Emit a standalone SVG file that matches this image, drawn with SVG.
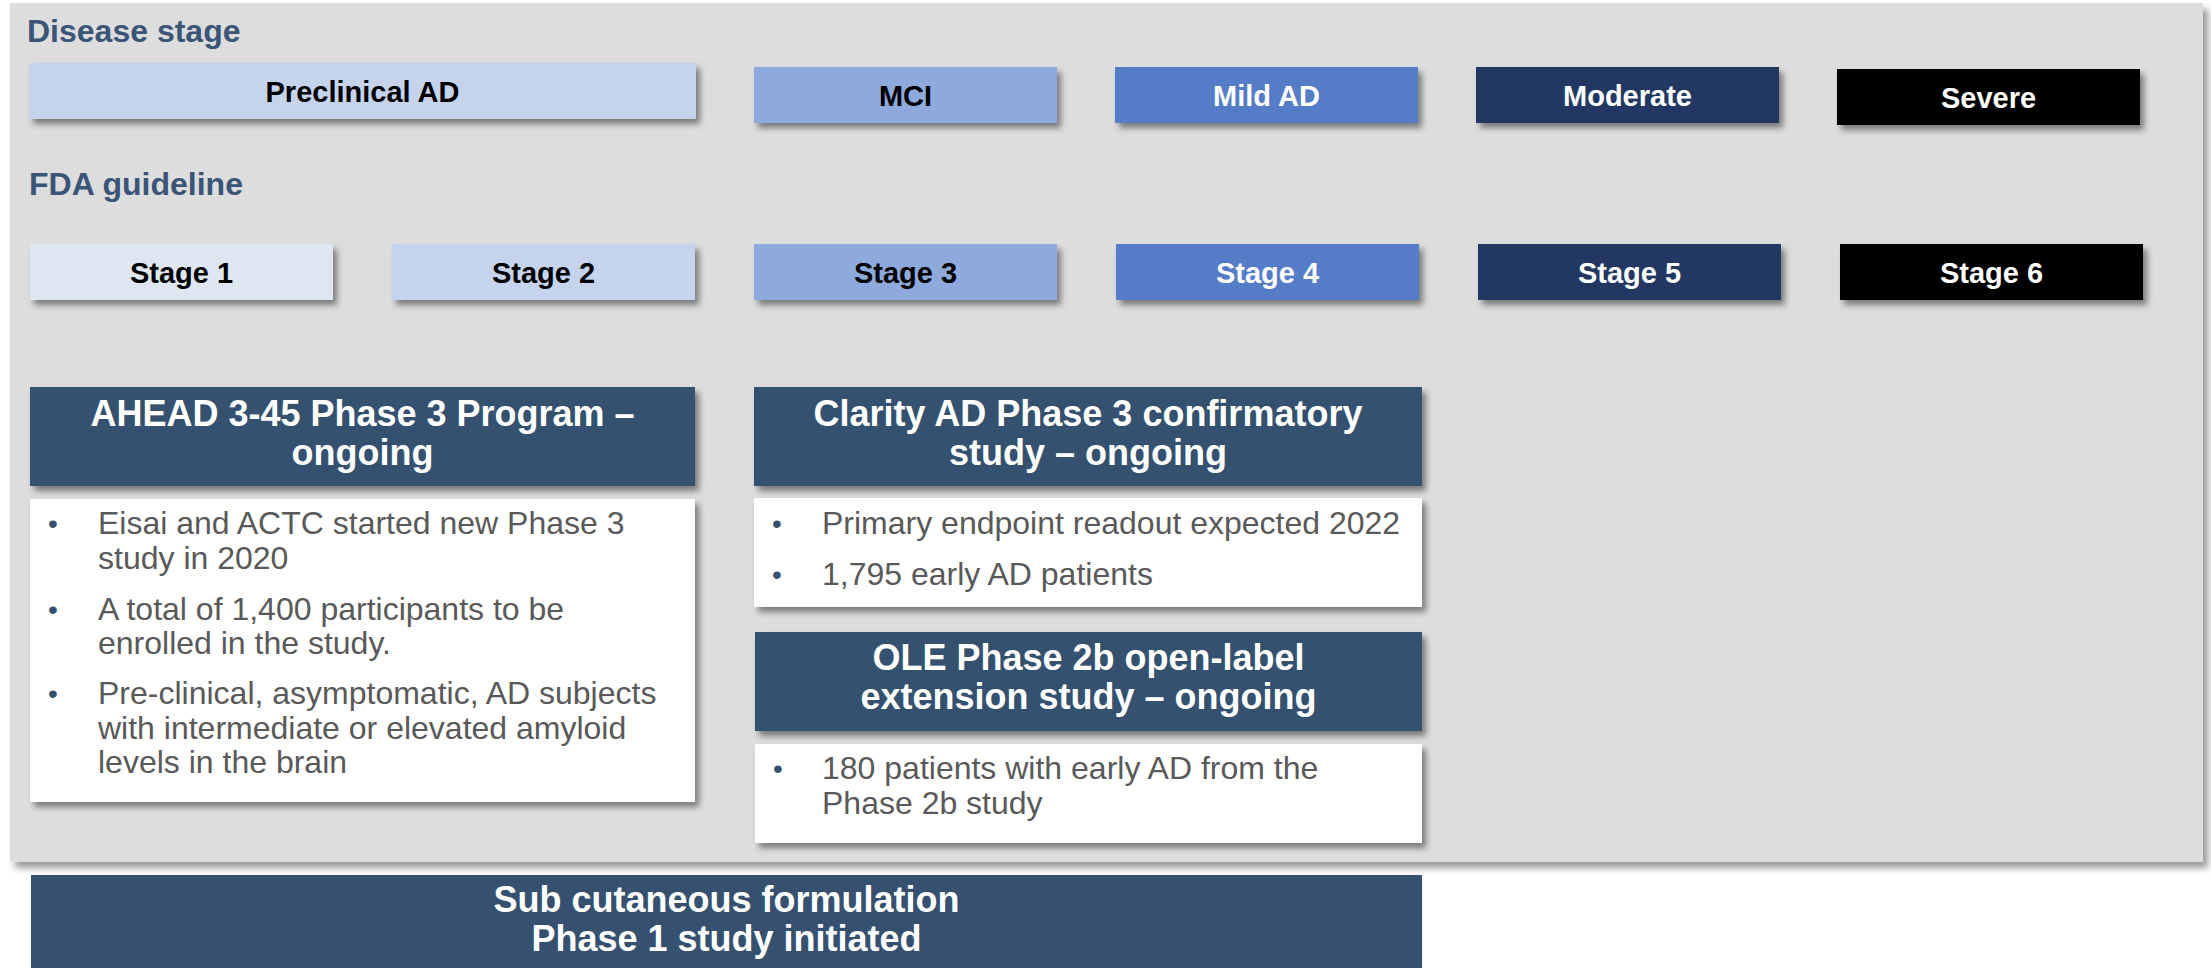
<svg xmlns="http://www.w3.org/2000/svg" width="2211" height="968" viewBox="0 0 2211 968">
<defs>
<filter id="sh" x="-5%" y="-10%" width="115%" height="140%">
<feDropShadow dx="4" dy="5" stdDeviation="3" flood-color="#000" flood-opacity="0.45"/>
</filter>
<filter id="psh" x="-2%" y="-2%" width="105%" height="106%">
<feDropShadow dx="5" dy="6" stdDeviation="3.5" flood-color="#000" flood-opacity="0.4"/>
</filter>
<style>
text{font-family:"Liberation Sans",Arial,Helvetica,sans-serif}
.sec{font-size:32px;font-weight:bold;fill:#3A5577}
.lbl{font-size:29px;font-weight:bold;text-anchor:middle}
.dk{fill:#000}
.wt{fill:#fff}
.hd{font-size:36px;font-weight:bold;fill:#fff;text-anchor:middle}
.bl{font-size:32px;fill:#595959}
.bu{font-size:28px;fill:#36506F}
.hbox{fill:#36516F}
.body{fill:#fff}
</style>
</defs>
<rect width="2211" height="968" fill="#fff"/>
<g id="panel">
<rect x="10" y="3" width="2193" height="859" fill="#DDDDDD" filter="url(#psh)"/>
</g>
<g id="titles">
<text class="sec" x="27" y="42">Disease stage</text>
<text class="sec" x="29" y="195">FDA guideline</text>
</g>
<g id="disease-stages">
<g id="preclinical"><rect x="29" y="63" width="667" height="56" fill="#C5D3EC" filter="url(#sh)"/><text class="lbl dk" x="362.5" y="102">Preclinical AD</text></g>
<g id="mci"><rect x="754" y="67" width="303" height="56" fill="#8EA9DB" filter="url(#sh)"/><text class="lbl dk" x="905.5" y="106">MCI</text></g>
<g id="mild"><rect x="1115" y="67" width="303" height="56" fill="#557CC6" filter="url(#sh)"/><text class="lbl wt" x="1266.5" y="106">Mild AD</text></g>
<g id="moderate"><rect x="1476" y="67" width="303" height="56" fill="#213763" filter="url(#sh)"/><text class="lbl wt" x="1627.5" y="106">Moderate</text></g>
<g id="severe"><rect x="1837" y="69" width="303" height="56" fill="#000" filter="url(#sh)"/><text class="lbl wt" x="1988.5" y="108">Severe</text></g>
</g>
<g id="fda-stages">
<g id="stage1"><rect x="30" y="244" width="303" height="56" fill="#DEE6F1" filter="url(#sh)"/><text class="lbl dk" x="181.5" y="283">Stage 1</text></g>
<g id="stage2"><rect x="392" y="244" width="303" height="56" fill="#C5D3EC" filter="url(#sh)"/><text class="lbl dk" x="543.5" y="283">Stage 2</text></g>
<g id="stage3"><rect x="754" y="244" width="303" height="56" fill="#8EA9DB" filter="url(#sh)"/><text class="lbl dk" x="905.5" y="283">Stage 3</text></g>
<g id="stage4"><rect x="1116" y="244" width="303" height="56" fill="#557CC6" filter="url(#sh)"/><text class="lbl wt" x="1267.5" y="283">Stage 4</text></g>
<g id="stage5"><rect x="1478" y="244" width="303" height="56" fill="#213763" filter="url(#sh)"/><text class="lbl wt" x="1629.5" y="283">Stage 5</text></g>
<g id="stage6"><rect x="1840" y="244" width="303" height="56" fill="#000" filter="url(#sh)"/><text class="lbl wt" x="1991.5" y="283">Stage 6</text></g>
</g>
<g id="ahead">
<rect class="hbox" x="30" y="387" width="665" height="99" filter="url(#sh)"/>
<text class="hd" x="362.5" y="426">AHEAD 3-45 Phase 3 Program –</text>
<text class="hd" x="362.5" y="465">ongoing</text>
<rect class="body" x="30" y="499" width="665" height="303" filter="url(#sh)"/>
<text class="bu" x="48" y="533">•</text>
<text class="bl" x="98" y="534">Eisai and ACTC started new Phase 3</text>
<text class="bl" x="98" y="569">study in 2020</text>
<text class="bu" x="48" y="619">•</text>
<text class="bl" x="98" y="620">A total of 1,400 participants to be</text>
<text class="bl" x="98" y="654">enrolled in the study.</text>
<text class="bu" x="48" y="703">•</text>
<text class="bl" x="98" y="704">Pre-clinical, asymptomatic, AD subjects</text>
<text class="bl" x="98" y="739">with intermediate or elevated amyloid</text>
<text class="bl" x="98" y="773">levels in the brain</text>
</g>
<g id="clarity">
<rect class="hbox" x="754" y="387" width="668" height="99" filter="url(#sh)"/>
<text class="hd" x="1088" y="426">Clarity AD Phase 3 confirmatory</text>
<text class="hd" x="1088" y="465">study – ongoing</text>
<rect class="body" x="754" y="498" width="668" height="109" filter="url(#sh)"/>
<text class="bu" x="772" y="533">•</text>
<text class="bl" x="822" y="534">Primary endpoint readout expected 2022</text>
<text class="bu" x="772" y="584">•</text>
<text class="bl" x="822" y="585">1,795 early AD patients</text>
</g>
<g id="ole">
<rect class="hbox" x="755" y="632" width="667" height="99" filter="url(#sh)"/>
<text class="hd" x="1088.5" y="670">OLE Phase 2b open-label</text>
<text class="hd" x="1088.5" y="709">extension study – ongoing</text>
<rect class="body" x="755" y="744" width="667" height="99" filter="url(#sh)"/>
<text class="bu" x="773" y="778">•</text>
<text class="bl" x="822" y="779">180 patients with early AD from the</text>
<text class="bl" x="822" y="814">Phase 2b study</text>
</g>
<g id="subcutaneous">
<rect class="hbox" x="31" y="875" width="1391" height="100"/>
<text class="hd" x="726.5" y="912">Sub cutaneous formulation</text>
<text class="hd" x="726.5" y="951">Phase 1 study initiated</text>
</g>
<g id="connectors"/>
</svg>
